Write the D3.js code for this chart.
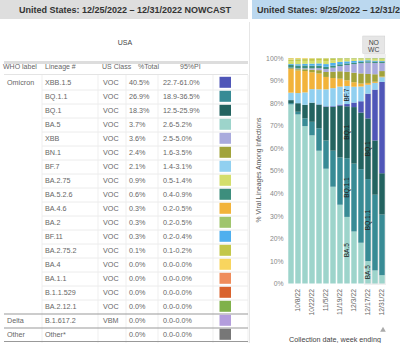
<!DOCTYPE html>
<html>
<head>
<meta charset="utf-8">
<script src="https://cdn.jsdelivr.net/npm/d3@7"></script>
<style>
  body { margin: 0; background: #fff; }
  svg { display: block; font-family: "Liberation Sans", Arial, sans-serif; }
</style>
</head>
<body>
<svg id="chart" width="400" height="343"></svg>
<script>
// nowcast table, week 12/25 - 12/31
const lineages = ['XBB.1.5', 'BQ.1.1', 'BQ.1', 'BA.5', 'XBB', 'BN.1', 'BF.7', 'BA.2.75', 'BA.5.2.6',
  'BA.4.6', 'BA.2', 'BF.11', 'BA.2.75.2', 'BA.4', 'BA.1.1', 'B.1.1.529', 'BA.2.12.1', 'B.1.617.2', 'Other*'];
const whoLabels = ['Omicron', '', '', '', '', '', '', '', '', '', '', '', '', '', '', '', '', 'Delta', 'Other'];
const usClass = ['VOC', 'VOC', 'VOC', 'VOC', 'VOC', 'VOC', 'VOC', 'VOC', 'VOC', 'VOC', 'VOC', 'VOC',
  'VOC', 'VOC', 'VOC', 'VOC', 'VOC', 'VBM', ''];
const pctTotal = [40.5, 26.9, 18.3, 3.7, 3.6, 2.4, 2.1, 0.9, 0.6, 0.3, 0.3, 0.3, 0.1, 0, 0, 0, 0, 0, 0];
const piRange = ['22.7-61.0%', '18.9-36.5%', '12.5-25.9%', '2.6-5.2%', '2.5-5.0%', '1.6-3.5%', '1.4-3.1%',
  '0.5-1.4%', '0.4-0.9%', '0.2-0.5%', '0.2-0.5%', '0.2-0.4%', '0.1-0.2%', '0.0-0.0%', '0.0-0.0%',
  '0.0-0.0%', '0.0-0.0%', '0.0-0.0%', '0.0-0.0%'];
const lineageColors = ['#4f56b8', '#388b95', '#236360', '#9dd4cb', '#a9aadd', '#a1a33b', '#91d0f0',
  '#d4de6c', '#3d8e7d', '#f2b33b', '#a0c56d', '#4fafee', '#c3c74a', '#f8d55e', '#ef8c5b', '#d9622d',
  '#80b14b', '#b39ddc', '#777777'];

// weekly proportions (%), weeks ending 10/1 .. 12/31
const weeks = ['10/1/22', '10/8/22', '10/15/22', '10/22/22', '10/29/22', '11/5/22', '11/12/22',
  '11/19/22', '11/26/22', '12/3/22', '12/10/22', '12/17/22', '12/24/22', '12/31/22'];
const weekTicks = ['10/8/22', '10/22/22', '11/5/22', '11/19/22', '12/3/22', '12/17/22', '12/31/22'];
const nowcastWeeks = ['12/17/22', '12/24/22', '12/31/22'];

const sXBB15 = [0, 0, 0, 0, 0.1, 0.2, 0.3, 0.5, 1, 2, 5, 11, 22.5, 40.5];
const sBQ11 = [0.6, 1.2, 3.5, 6, 10, 12.5, 16, 21, 26, 30, 32.5, 36.5, 33.5, 26.9];
const sBQ1 = [1.3, 3.8, 6, 8.5, 10.5, 15, 19.5, 23, 23, 25, 25, 27, 24, 18.3];
const sBA5 = [79.5, 75, 70, 65.7, 59, 50.9, 43, 35, 29.5, 23, 18, 10, 5.8, 3.7];
const sXBB = [0.2, 0.3, 0.4, 0.6, 0.9, 1.3, 1.8, 2.3, 3, 3.8, 4.5, 5, 5, 3.6];
const sBN1 = [0.4, 0.6, 0.8, 1.1, 1.5, 2.2, 2.8, 3.3, 3.8, 4.2, 4.5, 4, 3.3, 2.4];
const sBF7 = [3.3, 4.5, 5.5, 6, 6.7, 7.5, 8, 8, 8, 7, 6.5, 4, 3, 2.1];
const sBA275 = [1.3, 1.4, 1.3, 1.2, 1.2, 1.3, 1.1, 0.9, 0.8, 0.7, 0.6, 0.6, 0.8, 0.9];
const sBA5226 = [1.2, 1.3, 1.3, 1.2, 1.1, 1.0, 0.9, 0.8, 0.7, 0.6, 0.6, 0.6, 0.6, 0.6];
const sBA46 = [10.5, 10, 9.5, 7.5, 7, 5.5, 4.5, 3.5, 2.5, 2, 1.3, 0.8, 0.5, 0.3];
const sBA2 = [0.2, 0.2, 0.2, 0.2, 0.2, 0.2, 0.2, 0.2, 0.2, 0.2, 0.2, 0.2, 0.3, 0.3];
const sBF11 = [0.4, 0.6, 0.7, 0.9, 1, 1.2, 1.2, 1.1, 0.9, 0.8, 0.6, 0.5, 0.4, 0.3];
const sBA2752 = [0.5, 0.7, 0.8, 0.9, 0.9, 1.1, 0.9, 0.6, 0.5, 0.4, 0.3, 0.2, 0.1, 0.1];
const sBA4 = [0.6, 0.4, 0.3, 0.2, 0.1, 0.1, 0, 0, 0, 0, 0, 0, 0, 0];
const sBA11 = [0, 0, 0, 0, 0, 0, 0, 0, 0, 0, 0, 0, 0, 0];
const sB11529 = [0, 0, 0, 0, 0, 0, 0, 0, 0, 0, 0, 0, 0, 0];
const sBA2121 = [0.1, 0.05, 0, 0, 0, 0, 0, 0, 0, 0, 0, 0, 0, 0];
const sDelta = [0, 0, 0, 0, 0, 0, 0, 0, 0, 0, 0, 0, 0, 0];
const sOther = [0, 0, 0, 0, 0, 0, 0, 0, 0, 0, 0, 0, 0, 0];

const series = [sXBB15, sBQ11, sBQ1, sBA5, sXBB, sBN1, sBF7, sBA275, sBA5226, sBA46, sBA2, sBF11,
  sBA2752, sBA4, sBA11, sB11529, sBA2121, sDelta, sOther];

const stackOrder = ['BA.5', 'BQ.1.1', 'BQ.1', 'XBB.1.5', 'BF.7', 'BA.4.6', 'BN.1', 'XBB', 'BA.5.2.6',
  'BF.11', 'BA.2.75', 'BA.2.75.2', 'BA.2', 'BA.4', 'BA.2.12.1', 'BA.1.1', 'B.1.1.529', 'B.1.617.2', 'Other*'];

const labelWeeks = ['11/26/22', '12/17/22'];
const labelLineages = [['BF.7', 'BQ.1', 'BQ.1.1', 'BA.5'], ['BQ.1', 'BQ.1.1', 'BA.5']];

const svg = d3.select('#chart');
const color = d3.scaleOrdinal().domain(lineages).range(lineageColors);

// ---- headers
svg.append('rect').attr('x', 0).attr('y', 0).attr('width', 248).attr('height', 19).attr('fill', '#dedede');
svg.append('text').attr('x', 125).attr('y', 13).attr('text-anchor', 'middle')
  .attr('font-size', 9).attr('font-weight', 'bold').attr('fill', '#333')
  .text('United States: 12/25/2022 \u2013 12/31/2022 NOWCAST');

svg.append('rect').attr('x', 252).attr('y', 0).attr('width', 148).attr('height', 19).attr('fill', '#bbd8ef');
svg.append('text').attr('x', 257).attr('y', 13)
  .attr('font-size', 9).attr('font-weight', 'bold').attr('fill', '#333')
  .text('United States: 9/25/2022 \u2013 12/31/2022');

// ---- table
const tbl = svg.append('g').attr('font-size', 7.2).attr('fill', '#666');
tbl.append('text').attr('x', 125).attr('y', 45).attr('text-anchor', 'middle').attr('font-size', 7)
  .attr('fill', '#444').text('USA');
tbl.append('rect').attr('x', 4).attr('y', 61).attr('width', 244).attr('height', 3).attr('fill', '#dddddd');

const cols = { who: 7, lin: 45, cls: 103, pct: 129, pi: 163 };
const headers = [['WHO label', 3], ['Lineage #', 45], ['US Class', 102], ['%Total', 138], ['95%PI', 180]];
tbl.selectAll('.hdr').data(headers).enter().append('text')
  .attr('class', 'hdr').attr('x', d => d[1]).attr('y', 69).attr('font-size', 7).text(d => d[0]);

const rowY = d3.scaleBand().domain(lineages).range([75.5, 75.5 + 14 * lineages.length]);

// faint grid
tbl.append('line').attr('x1', 4).attr('x2', 248).attr('y1', 74.5).attr('y2', 74.5).attr('stroke', '#e4e4e4');
[42, 98, 126, 158, 213, 248].forEach((gx) => {
  tbl.append('line').attr('x1', gx).attr('x2', gx).attr('y1', 75).attr('y2', 343)
    .attr('stroke', '#efefef');
});
tbl.selectAll('.rowline').data(lineages.slice(1)).enter().append('line')
  .attr('x1', d => (d === 'B.1.617.2' || d === 'Other*' ? 4 : 42)).attr('x2', 248)
  .attr('y1', d => rowY(d) + 0.5).attr('y2', d => rowY(d) + 0.5)
  .attr('stroke', d => (d === 'B.1.617.2' || d === 'Other*' ? '#999' : '#ececec'));
tbl.append('line').attr('x1', 4).attr('x2', 248).attr('y1', 341.5).attr('y2', 341.5).attr('stroke', '#999');

const rows = tbl.selectAll('.row').data(lineages).enter().append('g')
  .attr('transform', d => `translate(0,${rowY(d) + rowY.bandwidth() / 2 + 2.6})`);
rows.append('text').attr('x', cols.who).text((d, i) => whoLabels[i]);
rows.append('text').attr('x', cols.lin).text(d => d);
rows.append('text').attr('x', cols.cls).text((d, i) => usClass[i]);
rows.append('text').attr('x', cols.pct).text((d, i) => `${pctTotal[i].toFixed(1)}%`);
rows.append('text').attr('x', cols.pi).text((d, i) => piRange[i]);
rows.append('rect').attr('x', 219.5).attr('y', -8.3).attr('width', 11.5).attr('height', 11)
  .attr('fill', d => color(d));

// ---- stacked bars
const table = weeks.map((w, i) => {
  const r = { week: w };
  lineages.forEach((l, j) => { r[l] = series[j][i]; });
  return r;
});
const stacked = d3.stack().keys(stackOrder).offset(d3.stackOffsetExpand)(table);

const x = d3.scaleBand().domain(weeks).range([287.5, 385.5]).paddingInner(0.22).paddingOuter(0.11);
const y = d3.scaleLinear().domain([0, 1]).range([283.5, 58]);

// nowcast shading
svg.append('rect')
  .attr('x', x(nowcastWeeks[0]) - 1.2)
  .attr('width', x(nowcastWeeks[2]) + x.bandwidth() + 1.2 - (x(nowcastWeeks[0]) - 1.2))
  .attr('y', 54).attr('height', 231).attr('fill', '#efefef');
svg.append('rect').attr('x', x(nowcastWeeks[0]) - 2.5).attr('y', 36).attr('width', 22).attr('height', 17.5)
  .attr('fill', '#e6e6e6').attr('stroke', '#d0d0d0').attr('stroke-width', 0.5);
svg.append('text').attr('x', x(nowcastWeeks[0]) + 8.5).attr('y', 44.5).attr('text-anchor', 'middle')
  .attr('font-size', 6.8).attr('fill', '#444').text('NO');
svg.append('text').attr('x', x(nowcastWeeks[0]) + 8.5).attr('y', 52).attr('text-anchor', 'middle')
  .attr('font-size', 6.8).attr('fill', '#444').text('WC');

svg.append('g').selectAll('g').data(stacked).enter().append('g')
  .attr('fill', d => color(d.key))
  .selectAll('rect').data(d => d).enter().append('rect')
  .attr('x', d => x(d.data.week))
  .attr('width', x.bandwidth())
  .attr('y', d => y(d[1]))
  .attr('height', d => y(d[0]) - y(d[1]));

// in-bar labels
labelWeeks.forEach((w, wi) => {
  const idx = weeks.indexOf(w);
  labelLineages[wi].forEach((l) => {
    const seg = stacked.find(s => s.key === l)[idx];
    const cy = y((seg[0] + seg[1]) / 2);
    svg.append('text')
      .attr('transform', `translate(${x(w) + x.bandwidth() / 2 + 2.2},${cy}) rotate(-90)`)
      .attr('text-anchor', 'middle').attr('font-size', 6.5).attr('fill', '#222')
      .text(l);
  });
});

// axes
const yAxis = svg.append('g').attr('transform', 'translate(285,0)')
  .call(d3.axisLeft(y).ticks(10).tickFormat(d3.format('.0%')).tickSize(0).tickPadding(1.5));
yAxis.select('.domain').remove();
yAxis.selectAll('text').attr('font-size', 6.8).attr('fill', '#888').attr('font-family', null);

const xAxis = svg.append('g').attr('transform', 'translate(0,287)')
  .call(d3.axisBottom(x).tickValues(weekTicks).tickSize(0).tickPadding(0));
xAxis.select('.domain').remove();
xAxis.selectAll('text').attr('font-size', 6.8).attr('fill', '#666').attr('font-family', null)
  .attr('text-anchor', 'end').attr('transform', 'rotate(-90)').attr('dy', '0.32em').attr('x', -2).attr('y', 0);

svg.append('text').attr('transform', 'translate(261,170) rotate(-90)').attr('text-anchor', 'middle')
  .attr('font-size', 6.8).attr('fill', '#555').text('% Viral Lineages Among Infections');

svg.append('text').attr('x', 335).attr('y', 342).attr('text-anchor', 'middle')
  .attr('font-size', 7.2).attr('fill', '#444').text('Collection date, week ending');

svg.append('path').attr('d', d3.symbol(d3.symbolTriangle, 14)()).attr('transform', 'translate(383,330)')
  .attr('fill', '#aaa');
svg.append('line').attr('x1', 249.5).attr('x2', 249.5).attr('y1', 22).attr('y2', 343).attr('stroke', '#e6e6e6');
</script>
</body>
</html>
